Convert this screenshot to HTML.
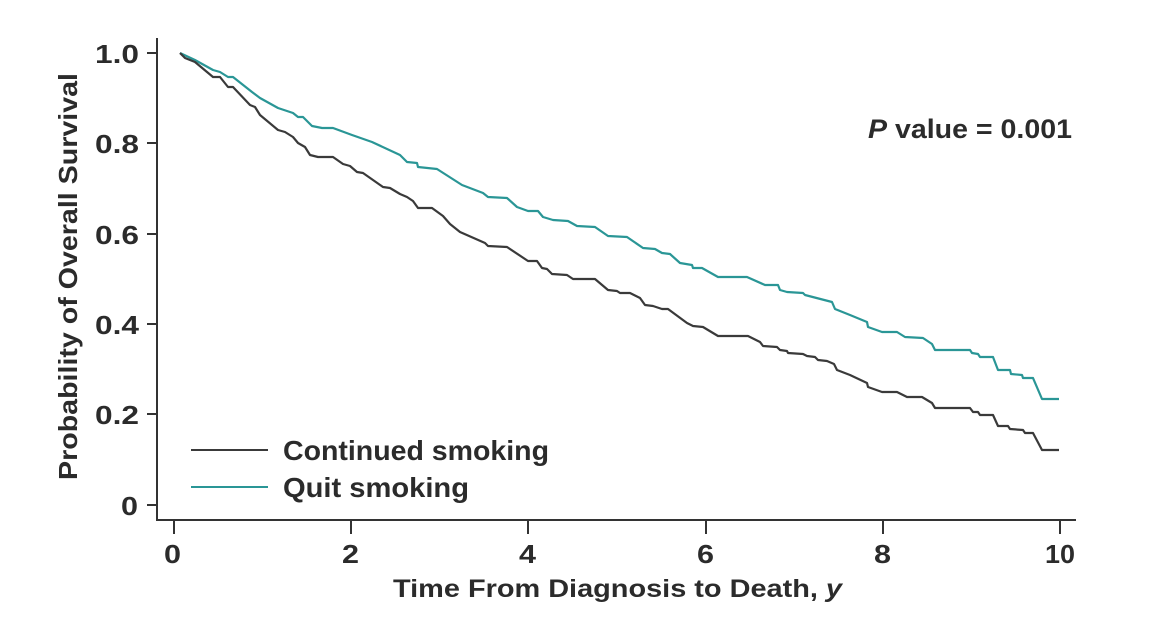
<!DOCTYPE html>
<html>
<head>
<meta charset="utf-8">
<style>
  html, body { margin: 0; padding: 0; background: #ffffff; }
  svg { display: block; }
  text { font-family: "Liberation Sans", "DejaVu Sans", sans-serif; font-weight: bold; fill: #2b2b2b; }
</style>
</head>
<body>
<svg width="1152" height="620" viewBox="0 0 1152 620" xmlns="http://www.w3.org/2000/svg">
  <rect width="1152" height="620" fill="#ffffff"/>

  <!-- Axes -->
  <g stroke="#333333" stroke-width="2" fill="none">
    <line x1="157" y1="38" x2="157" y2="521"/>
    <line x1="156" y1="520" x2="1076" y2="520"/>
    <!-- y ticks -->
    <line x1="147" y1="53" x2="157" y2="53"/>
    <line x1="147" y1="143" x2="157" y2="143"/>
    <line x1="147" y1="234" x2="157" y2="234"/>
    <line x1="147" y1="324" x2="157" y2="324"/>
    <line x1="147" y1="414" x2="157" y2="414"/>
    <line x1="147" y1="505" x2="157" y2="505"/>
    <!-- x ticks -->
    <line x1="174" y1="520" x2="174" y2="534"/>
    <line x1="351" y1="520" x2="351" y2="534"/>
    <line x1="528" y1="520" x2="528" y2="534"/>
    <line x1="706" y1="520" x2="706" y2="534"/>
    <line x1="883" y1="520" x2="883" y2="534"/>
    <line x1="1060" y1="520" x2="1060" y2="534"/>
  </g>

  <!-- Y tick labels -->
  <g font-size="26">
    <text x="95" y="63" textLength="44" lengthAdjust="spacingAndGlyphs">1.0</text>
    <text x="95" y="153" textLength="44" lengthAdjust="spacingAndGlyphs">0.8</text>
    <text x="95" y="244" textLength="44" lengthAdjust="spacingAndGlyphs">0.6</text>
    <text x="95" y="334" textLength="44" lengthAdjust="spacingAndGlyphs">0.4</text>
    <text x="95" y="424" textLength="44" lengthAdjust="spacingAndGlyphs">0.2</text>
    <text x="121" y="515" textLength="17" lengthAdjust="spacingAndGlyphs">0</text>
  </g>

  <!-- X tick labels -->
  <g font-size="26">
    <text x="164" y="563" textLength="17" lengthAdjust="spacingAndGlyphs">0</text>
    <text x="342" y="563" textLength="17" lengthAdjust="spacingAndGlyphs">2</text>
    <text x="519" y="563" textLength="17" lengthAdjust="spacingAndGlyphs">4</text>
    <text x="697" y="563" textLength="17" lengthAdjust="spacingAndGlyphs">6</text>
    <text x="874" y="563" textLength="17" lengthAdjust="spacingAndGlyphs">8</text>
    <text x="1045" y="563" textLength="30" lengthAdjust="spacingAndGlyphs">10</text>
  </g>

  <!-- Axis titles -->
  <text x="393" y="597" font-size="25" textLength="449" lengthAdjust="spacingAndGlyphs">Time From Diagnosis to Death, <tspan font-style="italic">y</tspan></text>
  <text transform="translate(77,480) rotate(-90)" x="0" y="0" font-size="26" textLength="407" lengthAdjust="spacingAndGlyphs">Probability of Overall Survival</text>

  <!-- P value -->
  <text x="868" y="138" font-size="27" textLength="204" lengthAdjust="spacingAndGlyphs"><tspan font-style="italic">P</tspan> value = 0.001</text>

  <!-- Curves -->
  <polyline fill="none" stroke="#2a9696" stroke-width="2.2" stroke-linejoin="round"
    points="180,53 195,60 213,70 220,72 228,77 233,77 252,92 260,98 278,108 293,113 298,117 303,117 312,126 322,128 333,128 352,135 372,142 400,155 407,162 417,163 418,167 437,169 462,185 483,193 488,197 507,198 517,207 528,211 538,211 543,217 553,220 568,221 577,226 595,227 608,236 627,237 643,248 655,249 662,253 670,254 680,263 692,265 693,268 702,268 718,277 747,277 765,285 778,285 780,290 787,292 803,293 805,295 832,302 835,309 850,315 867,322 868,327 882,332 897,332 905,337 923,338 932,344 935,350 970,350 972,353 978,354 980,357 993,357 998,370 1010,370 1011,374 1022,375 1023,378 1033,378 1042,399 1059,399"/>
  <polyline fill="none" stroke="#3a3a3a" stroke-width="2.2" stroke-linejoin="round"
    points="180,53 185,58 195,62 213,77 220,77 228,87 233,87 250,105 255,107 260,115 278,130 285,132 293,137 298,143 305,147 310,155 318,157 333,157 343,164 350,166 357,172 363,173 383,187 390,188 400,194 407,197 413,201 418,208 432,208 443,216 450,224 460,232 485,243 488,246 507,247 528,261 537,261 542,268 547,269 552,274 567,275 573,279 595,279 608,290 617,291 620,293 630,293 640,298 645,305 653,306 662,309 668,309 687,323 693,326 703,327 718,336 748,336 760,342 763,346 777,347 780,350 787,351 788,353 803,354 807,356 815,357 818,360 827,361 834,364 837,370 850,375 867,383 868,387 882,392 897,392 907,397 922,397 932,403 935,408 970,408 973,412 978,412 980,415 993,415 998,426 1008,426 1010,429 1023,430 1025,433 1033,433 1042,450 1059,450"/>

  <!-- Legend -->
  <line x1="191" y1="450" x2="268" y2="450" stroke="#3a3a3a" stroke-width="2"/>
  <line x1="191" y1="487" x2="268" y2="487" stroke="#2a9696" stroke-width="2"/>
  <text x="283" y="460" font-size="28" textLength="266" lengthAdjust="spacingAndGlyphs">Continued smoking</text>
  <text x="283" y="497" font-size="28" textLength="186" lengthAdjust="spacingAndGlyphs">Quit smoking</text>
</svg>
</body>
</html>
